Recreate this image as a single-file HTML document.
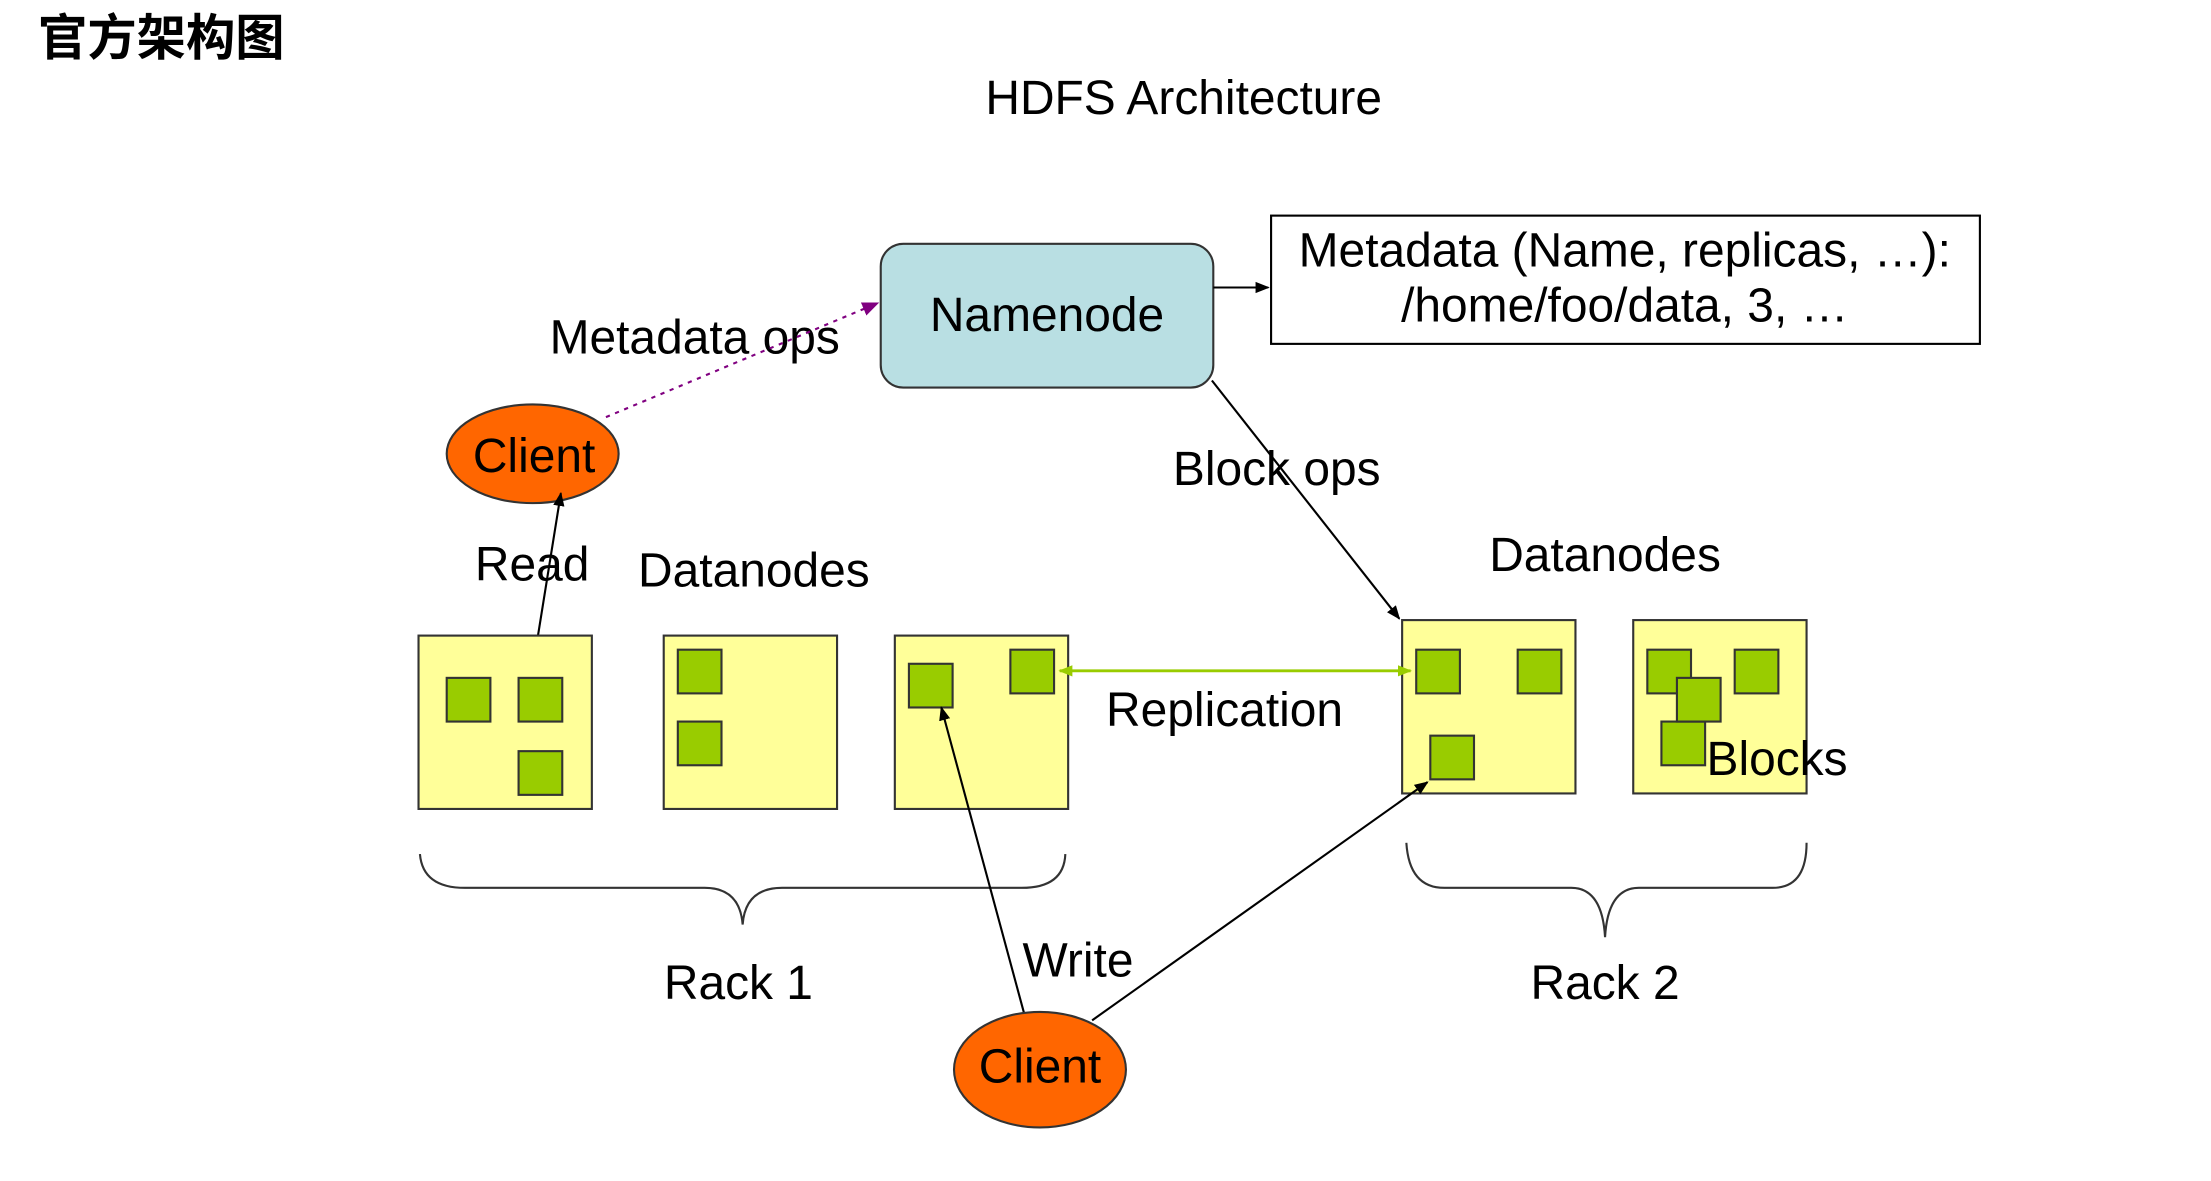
<!DOCTYPE html>
<html><head><meta charset="utf-8"><style>
html,body{margin:0;padding:0;background:#fff;}
svg{display:block;}
text{font-family:"Liberation Sans","Noto Sans CJK SC",sans-serif;fill:#000;}
</style></head><body>
<svg width="2211" height="1181" viewBox="0 0 1569 838" preserveAspectRatio="none" xmlns="http://www.w3.org/2000/svg">
<defs>
<marker id="a" markerWidth="10" markerHeight="10" refX="9" refY="5" orient="auto" markerUnits="userSpaceOnUse"><path d="M0,1 L10,5 L0,9 z" fill="#000"/></marker>
<marker id="p" markerWidth="12" markerHeight="12" refX="11" refY="6" orient="auto" markerUnits="userSpaceOnUse"><path d="M0,1 L12,6 L0,11 z" fill="#800080"/></marker>
<marker id="g" markerWidth="10" markerHeight="10" refX="9" refY="5" orient="auto-start-reverse" markerUnits="userSpaceOnUse"><path d="M0,1 L10,5 L0,9 z" fill="#99cc00"/></marker>
</defs>
<text x="27" y="39" font-size="35" font-weight="bold" fill="#222" style="font-family:'Noto Sans CJK SC',sans-serif">官方架构图</text>
<text x="840" y="81" font-size="34" text-anchor="middle">HDFS Architecture</text>
<rect x="625" y="173" width="236" height="102" rx="16" fill="#b9dfe3" stroke="#333" stroke-width="1.5"/>
<text x="743" y="235" font-size="34" text-anchor="middle">Namenode</text>
<rect x="902" y="153" width="503" height="91" fill="#fff" stroke="#000" stroke-width="1.5"/>
<text x="1153" y="189" font-size="34" text-anchor="middle">Metadata (Name, replicas, …):</text>
<text x="1153" y="228" font-size="34" text-anchor="middle">/home/foo/data, 3, …</text>
<line x1="861" y1="204" x2="900" y2="204" stroke="#000" stroke-width="1.5" marker-end="url(#a)"/>
<text x="390" y="251" font-size="34">Metadata ops</text>
<line x1="430" y1="296" x2="623" y2="215" stroke="#800080" stroke-width="1.5" stroke-dasharray="3,4" marker-end="url(#p)"/>
<ellipse cx="378" cy="322" rx="61" ry="35" fill="#ff6600" stroke="#333" stroke-width="1.5"/>
<text x="379" y="335" font-size="34" text-anchor="middle">Client</text>
<text x="906" y="344" font-size="34" text-anchor="middle">Block ops</text>
<line x1="860" y1="270" x2="993" y2="439" stroke="#000" stroke-width="1.5" marker-end="url(#a)"/>
<text x="337" y="412" font-size="34">Read</text>
<line x1="380" y1="462" x2="398" y2="350" stroke="#000" stroke-width="1.5" marker-end="url(#a)"/>
<text x="535" y="416" font-size="34" text-anchor="middle">Datanodes</text>
<text x="1139" y="405" font-size="34" text-anchor="middle">Datanodes</text>
<g stroke="#333" stroke-width="1.5">
<rect x="297" y="451" width="123" height="123" fill="#ffff99"/>
<rect x="471" y="451" width="123" height="123" fill="#ffff99"/>
<rect x="635" y="451" width="123" height="123" fill="#ffff99"/>
<rect x="995" y="440" width="123" height="123" fill="#ffff99"/>
<rect x="1159" y="440" width="123" height="123" fill="#ffff99"/>
<g fill="#99cc00">
<rect x="317" y="481" width="31" height="31"/><rect x="368" y="481" width="31" height="31"/><rect x="368" y="533" width="31" height="31"/>
<rect x="481" y="461" width="31" height="31"/><rect x="481" y="512" width="31" height="31"/>
<rect x="645" y="471" width="31" height="31"/><rect x="717" y="461" width="31" height="31"/>
<rect x="1005" y="461" width="31" height="31"/><rect x="1077" y="461" width="31" height="31"/><rect x="1015" y="522" width="31" height="31"/>
<rect x="1169" y="461" width="31" height="31"/><rect x="1231" y="461" width="31" height="31"/><rect x="1179" y="512" width="31" height="31"/><rect x="1190" y="481" width="31" height="31"/>
</g></g>
<text x="1211" y="550" font-size="34">Blocks</text>
<line x1="752" y1="476" x2="1001" y2="476" stroke="#99cc00" stroke-width="2" marker-start="url(#g)" marker-end="url(#g)"/>
<text x="869" y="515" font-size="34" text-anchor="middle">Replication</text>
<g fill="none" stroke="#333" stroke-width="1.5">
<path d="M298,606 Q300,630 330,630 L500,630 Q525,630 527,656 Q529,630 555,630 L725,630 Q755,630 756,606"/>
<path d="M998,598 Q1000,630 1025,630 L1115,630 Q1137,630 1139,665 Q1141,630 1163,630 L1258,630 Q1282,630 1282,598"/>
</g>
<text x="524" y="709" font-size="34" text-anchor="middle">Rack 1</text>
<text x="1139" y="709" font-size="34" text-anchor="middle">Rack 2</text>
<text x="765" y="693" font-size="34" text-anchor="middle">Write</text>
<line x1="727" y1="720" x2="668" y2="502" stroke="#000" stroke-width="1.5" marker-end="url(#a)"/>
<line x1="775" y1="724" x2="1013" y2="555" stroke="#000" stroke-width="1.5" marker-end="url(#a)"/>
<ellipse cx="738" cy="759" rx="61" ry="41" fill="#ff6600" stroke="#333" stroke-width="1.5"/>
<text x="738" y="768" font-size="34" text-anchor="middle">Client</text>
</svg>
</body></html>
